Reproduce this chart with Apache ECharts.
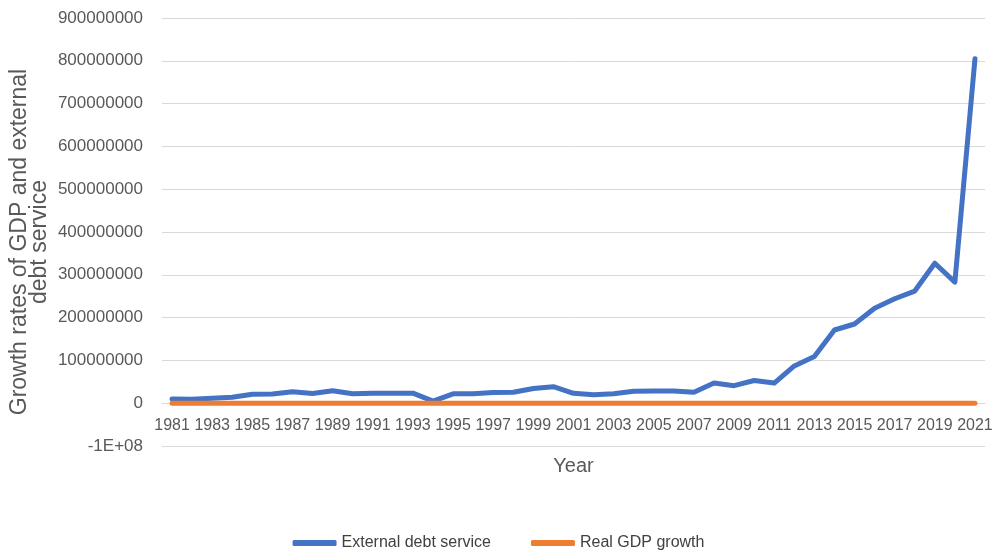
<!DOCTYPE html>
<html>
<head>
<meta charset="utf-8">
<script src="https://cdn.jsdelivr.net/npm/echarts@6/dist/echarts.min.js"></script>
<style>
html,body{margin:0;padding:0;background:#fff;}
#chart{width:997px;height:553px;}
</style>
</head>
<body>
<div id="chart"></div>
<script>
var years = [];
for (var y = 1981; y <= 2021; y++) years.push(String(y));

var externalDebtService = [
  10e6, 9e6, 11.5e6, 14e6, 21e6, 21.5e6, 26.5e6, 22.5e6, 29e6, 22e6,
  23e6, 23.5e6, 23.5e6, 5e6, 22e6, 22e6, 25e6, 25.5e6, 34.5e6, 38.5e6,
  23e6, 19.5e6, 22e6, 28e6, 28.5e6, 28.5e6, 25.5e6, 47e6, 41e6, 53e6,
  47e6, 87e6, 109e6, 171e6, 185e6, 222e6, 244e6, 262e6, 327e6, 283e6,
  805e6
];

var realGdpGrowth = [
  -13.1, -1.1, -5.1, -2.0, 8.3, -8.8, -10.8, 7.5, 6.5, 12.8,
  -0.6, 0.4, 2.1, 0.9, -0.3, 5.0, 2.8, 2.7, 0.5, 5.0,
  5.9, 15.3, 7.4, 9.3, 6.4, 6.1, 6.6, 6.8, 8.0, 8.0,
  5.3, 4.2, 6.7, 6.3, 2.7, -1.6, 0.8, 1.9, 2.2, -1.8,
  3.6
];

var yAxisTitle = 'Growth rates of GDP and external\ndebt service';
var xAxisTitle = 'Year';

var yMin = -100000000, yMax = 900000000, yStep = 100000000;
var labelColor = '#595959';

var chart = echarts.init(document.getElementById('chart'));
chart.setOption({
  animation: false,
  backgroundColor: '#ffffff',
  grid: { left: 162, right: 12, top: 18, bottom: 107, containLabel: false, outerBoundsMode: 'none' },
  graphic: [{
    type: 'text',
    x: 30, y: 242,
    rotation: Math.PI / 2,
    style: {
      text: yAxisTitle,
      fill: labelColor,
      font: '23px "Liberation Sans"',
      lineHeight: 20,
      align: 'center',
      verticalAlign: 'middle'
    }
  }],
  xAxis: {
    type: 'category',
    data: years,
    boundaryGap: true,
    offset: -42.8,
    name: xAxisTitle,
    nameLocation: 'middle',
    nameGap: 53,
    nameTextStyle: { color: labelColor, fontSize: 20, fontFamily: 'Liberation Sans' },
    axisLine: { onZero: false, lineStyle: { color: '#d9d9d9', width: 1 } },
    axisTick: { show: false },
    axisLabel: { interval: 1, color: labelColor, fontSize: 16, fontFamily: 'Liberation Sans', margin: 14 },
    splitLine: { show: false }
  },
  yAxis: {
    type: 'value',
    min: yMin, max: yMax, interval: yStep,
    axisLine: { show: false },
    axisTick: { show: false },
    axisLabel: {
      color: labelColor, fontSize: 17, fontFamily: 'Liberation Sans', margin: 19,
      formatter: function (v) { return v === -100000000 ? '-1E+08' : String(v); }
    },
    splitLine: { lineStyle: { color: '#d9d9d9', width: 1 } }
  },
  legend: {
    top: 530,
    left: 'center',
    itemWidth: 44,
    itemHeight: 6,
    itemGap: 40,
    icon: 'roundRect',
    textStyle: { color: '#404040', fontSize: 16, fontFamily: 'Liberation Sans' },
    data: ['External debt service', 'Real GDP growth']
  },
  series: [
    {
      name: 'External debt service', type: 'line', data: externalDebtService,
      showSymbol: false, symbol: 'none',
      itemStyle: { color: '#4472C4' },
      lineStyle: { color: '#4472C4', width: 5, cap: 'round', join: 'round' }
    },
    {
      name: 'Real GDP growth', type: 'line', data: realGdpGrowth,
      showSymbol: false, symbol: 'none',
      itemStyle: { color: '#ED7D31' },
      lineStyle: { color: '#ED7D31', width: 5, cap: 'round', join: 'round' }
    }
  ]
});
</script>
</body>
</html>
